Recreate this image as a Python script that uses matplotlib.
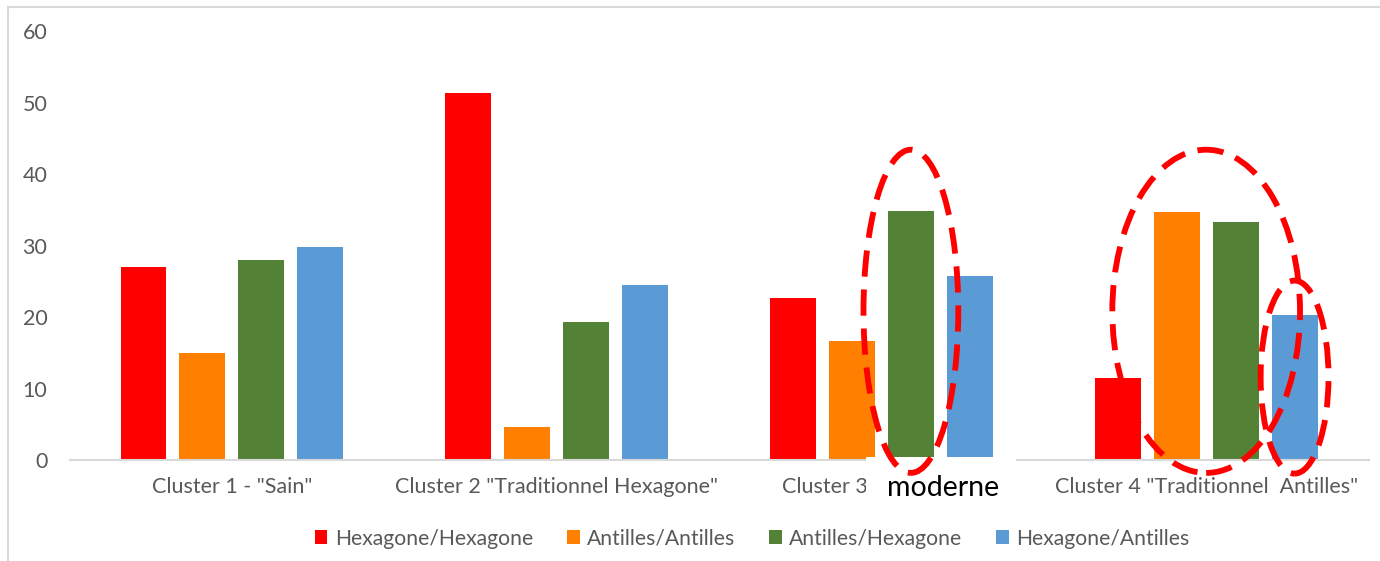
import matplotlib.pyplot as plt
import numpy as np
from matplotlib.patches import Ellipse, Rectangle, Patch
from matplotlib.lines import Line2D

plt.rcParams['font.family'] = ['Lato', 'DejaVu Sans']

clusters = ['Cluster 1 - "Sain"', 'Cluster 2 "Traditionnel Hexagone"',
            'Cluster 3 "Moderne" ', 'Cluster 4 "Traditionnel  Antilles"']
series = ['Hexagone/Hexagone', 'Antilles/Antilles', 'Antilles/Hexagone', 'Hexagone/Antilles']
hex_hex = [27.0, 51.3, 22.6, 11.5]
ant_ant = [14.9, 4.6, 16.6, 34.7]
ant_hex = [28.0, 19.3, 34.8, 33.3]
hex_ant = [29.8, 24.5, 25.7, 20.3]
colors = ['#FF0000', '#FF7F00', '#538135', '#5B9BD5']

fig = plt.figure(figsize=(13.8, 5.61), dpi=100)
ax = fig.add_axes([0.0504, 0.18, 0.9413, 0.7647])

x = np.arange(len(clusters))
pitch = 0.1815
width = 0.1415
values = [hex_hex, ant_ant, ant_hex, hex_ant]
for i, (vals, name, c) in enumerate(zip(values, series, colors)):
    ax.bar(x + (i - 1.5) * pitch, vals, width, color=c, label=name, zorder=1)

ax.set_xlim(-0.5, 3.5)
ax.set_ylim(0, 60)
ax.set_yticks(range(0, 61, 10))
ax.set_xticks(x)
ax.set_xticklabels(clusters)
ax.tick_params(axis='both', length=0, colors='#595959', labelsize=15.5)
ax.tick_params(axis='x', pad=12)
ax.tick_params(axis='y', pad=16)
for s in ['top', 'right', 'left']:
    ax.spines[s].set_visible(False)
ax.spines['bottom'].set_color('#D9D9D9')
ax.spines['bottom'].set_linewidth(1.5)

# white box with the overlay word
box = Rectangle((0.6275, 0.092), 0.109, 0.094, transform=fig.transFigure,
                facecolor='white', edgecolor='none', zorder=5, clip_on=False)
ax.add_patch(box)
fig.text(0.6835, 0.116, 'moderne', fontsize=20.5, color='black',
         ha='center', va='baseline', zorder=6)

# dashed highlight ellipses
dash = (0, (4.5, 2.2))
ell = [
    (2 + 0.5 * pitch, 20.8, 0.292, 45.2),
    (3.0, 20.8, 0.578, 45.2),
    (3 + 1.5 * pitch, 11.6, 0.209, 27.0),
]
for cx, cy, w, h in ell:
    ax.add_patch(Ellipse((cx, cy), w, h, fill=False, edgecolor='#FF0000',
                         linewidth=4.2, linestyle=dash, zorder=7, clip_on=False))

handles = [Patch(facecolor=c, edgecolor='none') for c in colors]
fig.legend(handles, series, loc='center', bbox_to_anchor=(0.545, 0.04), ncol=4,
           frameon=False, fontsize=15.2, labelcolor='#595959',
           handlelength=0.6, handleheight=0.6, handletextpad=0.35, columnspacing=1.6)

# outer frame
fig.add_artist(Line2D([0.0055, 0.0055], [0, 0.9875], color='#D9D9D9', lw=1.5,
                      transform=fig.transFigure))
fig.add_artist(Line2D([0.0055, 1], [0.9875, 0.9875], color='#D9D9D9', lw=1.5,
                      transform=fig.transFigure))

fig.savefig('out.png', dpi=100)
